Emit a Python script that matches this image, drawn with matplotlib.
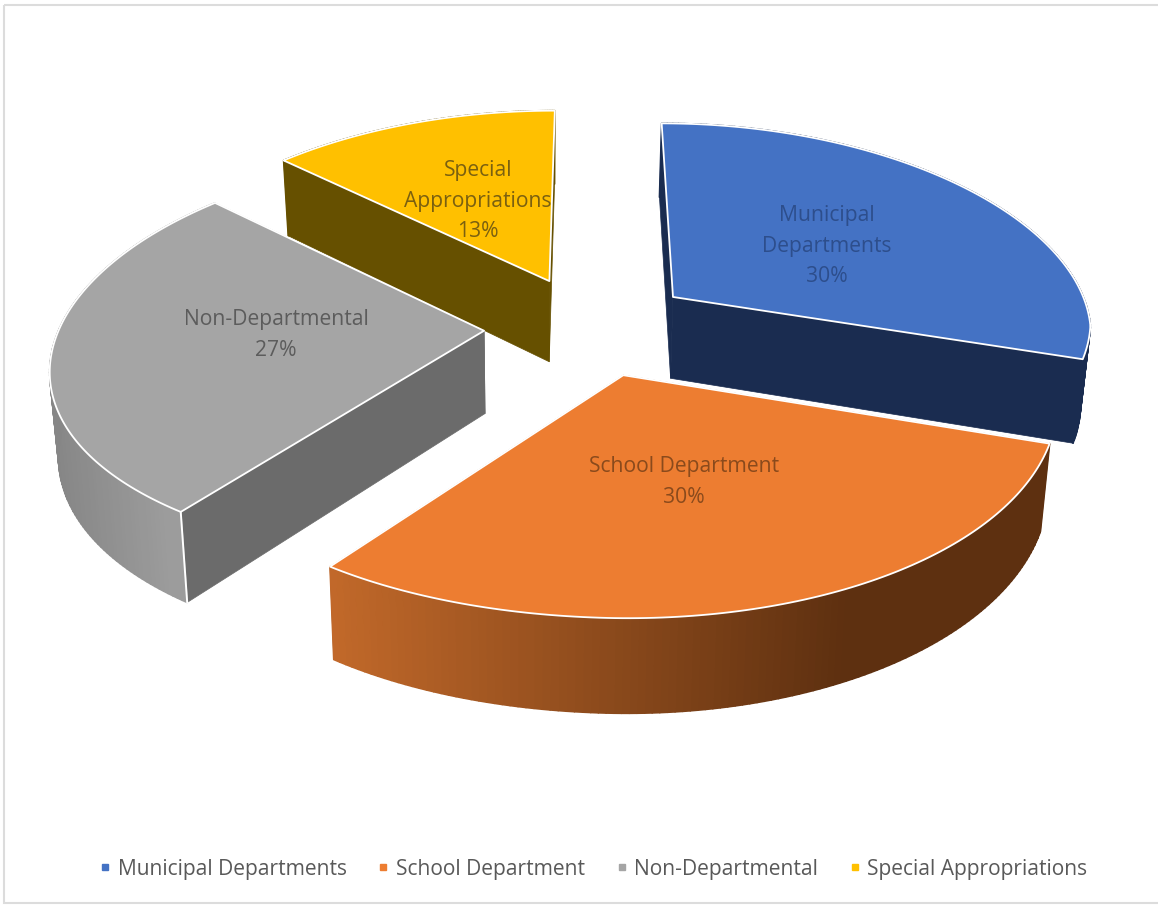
"""
Exploded 3D pie of the budget shares, drawn by hand with polygons.
"""

import numpy as np
import matplotlib

matplotlib.use('Agg')  # Use a non-GUI backend

import matplotlib.pyplot as plt
from matplotlib.colors import to_rgb
from matplotlib.lines import Line2D
from matplotlib.patches import Polygon, Rectangle

categories = ['Municipal Departments', 'School Department', 'Non-Departmental', 'Special Appropriations']
label_lines = ['Municipal\nDepartments', 'School Department', 'Non-Departmental', 'Special\nAppropriations']
shares = [30, 30, 27, 13]
top_colors = ['#4472c4', '#ed7d31', '#a5a5a5', '#ffc000']
wall_colors = ['#1a2c50', '#5e3010', '#6b6b6b', '#665000']
# outer rim colour at the right and the left of each slice
rim_right = ['#1a2c50', '#5e3010', '#9c9c9c', '#665000']
rim_left = ['#1a2c50', '#c2692a', '#868686', '#665000']
text_colors = ['#2d4e8c', '#8a4a1c', '#5c5c5c', '#7a6010']
label_spots = [(827, 246), (684, 482), (276, 335), (478, 201)]

W, H = 1158, 905
# ground plane to screen projection
CX, CY, SX, SY = 590, 326, 424, 201
PERSP_X, PERSP_Y = 0.16, 0.12
EXPLODE = 0.25


def project(u, v):
    # the front right of the pie is pulled in a little
    pull = np.maximum(u, 0) * (4 + 25 * np.maximum(-v, 0))
    return CX + SX * u / (1 + PERSP_X * v) - pull, CY - SY * v / (1 + PERSP_Y * v)


def drop(x, y):
    # same point on the lower face of the pie
    return x + (540 - x) * 0.018, y + 75 + 0.043 * (y - 150)


def face(ax, x, y, color, edge='white', lw=1.3, z=1):
    pts = np.column_stack([x, y])
    ax.add_patch(Polygon(pts, closed=True, facecolor=color, edgecolor=edge,
                         linewidth=lw, joinstyle='round', zorder=z))


def mix(a, b, t):
    return tuple((1 - t) * i + t * j for i, j in zip(to_rgb(a), to_rgb(b)))


fig = plt.figure(figsize=(W / 100, H / 100), dpi=100)
ax = fig.add_axes([0, 0, 1, 1])
ax.set_xlim(0, W)
ax.set_ylim(H, 0)
ax.axis('off')
ax.add_patch(Rectangle((4, 5), W, H - 7, fill=False, edgecolor='#dcdcdc', linewidth=1.5))

edges = np.cumsum([0] + shares) / sum(shares) * 2 * np.pi
slices = []
for i in range(len(shares)):
    mid = (edges[i] + edges[i + 1]) / 2
    ou, ov = EXPLODE * np.sin(mid), EXPLODE * np.cos(mid)
    t = np.linspace(edges[i], edges[i + 1], 120)
    ax_, ay_ = project(ou, ov)
    rx, ry = project(ou + np.sin(t), ov + np.cos(t))
    slices.append((i, ax_, ay_, rx, ry))

# back slices first, the front one last
for i, ax_, ay_, rx, ry in [slices[3], slices[2], slices[0], slices[1]]:
    bax, bay = drop(ax_, ay_)
    brx, bry = drop(rx, ry)
    # radial walls
    for j in (-1, 0):
        face(ax, [ax_, rx[j], brx[j], bax], [ay_, ry[j], bry[j], bay], wall_colors[i],
             edge=wall_colors[i], lw=0.5)
    # outer rim, shaded strip by strip along x
    for j in range(len(rx) - 1):
        c = mix(rim_left[i], rim_right[i], np.clip((rx[j] - rx.min()) / max(rx.max() - rx.min(), 1) / 0.72, 0, 1))
        face(ax, [rx[j], rx[j + 1], brx[j + 1], brx[j]], [ry[j], ry[j + 1], bry[j + 1], bry[j]],
             c, edge=c, lw=1.2)
    # seam where the rim meets the wall
    if i == 2:
        ax.plot([rx[0], brx[0]], [ry[0], bry[0]], color='white', lw=1.4, zorder=1)
    # top face
    face(ax, np.r_[ax_, rx], np.r_[ay_, ry], top_colors[i])

for i, (x, y) in enumerate(label_spots):
    ax.text(x, y, f'{label_lines[i]}\n{shares[i]}%', ha='center', va='center', color=text_colors[i],
            fontsize=15.2, family='Open Sans', linespacing=1.58, zorder=3)

handles = [Line2D([], [], linestyle='none', marker='s', markersize=4.5, color=c) for c in top_colors]
ax.legend(handles, categories, loc='center', bbox_to_anchor=(591 / W, 1 - 869 / H), ncol=4, frameon=False,
          prop={'family': 'Open Sans', 'size': 15.1}, labelcolor='#595959', columnspacing=1.25,
          handletextpad=0.1, handlelength=1.0)

fig.savefig('out.png', dpi=100)
plt.close(fig)
